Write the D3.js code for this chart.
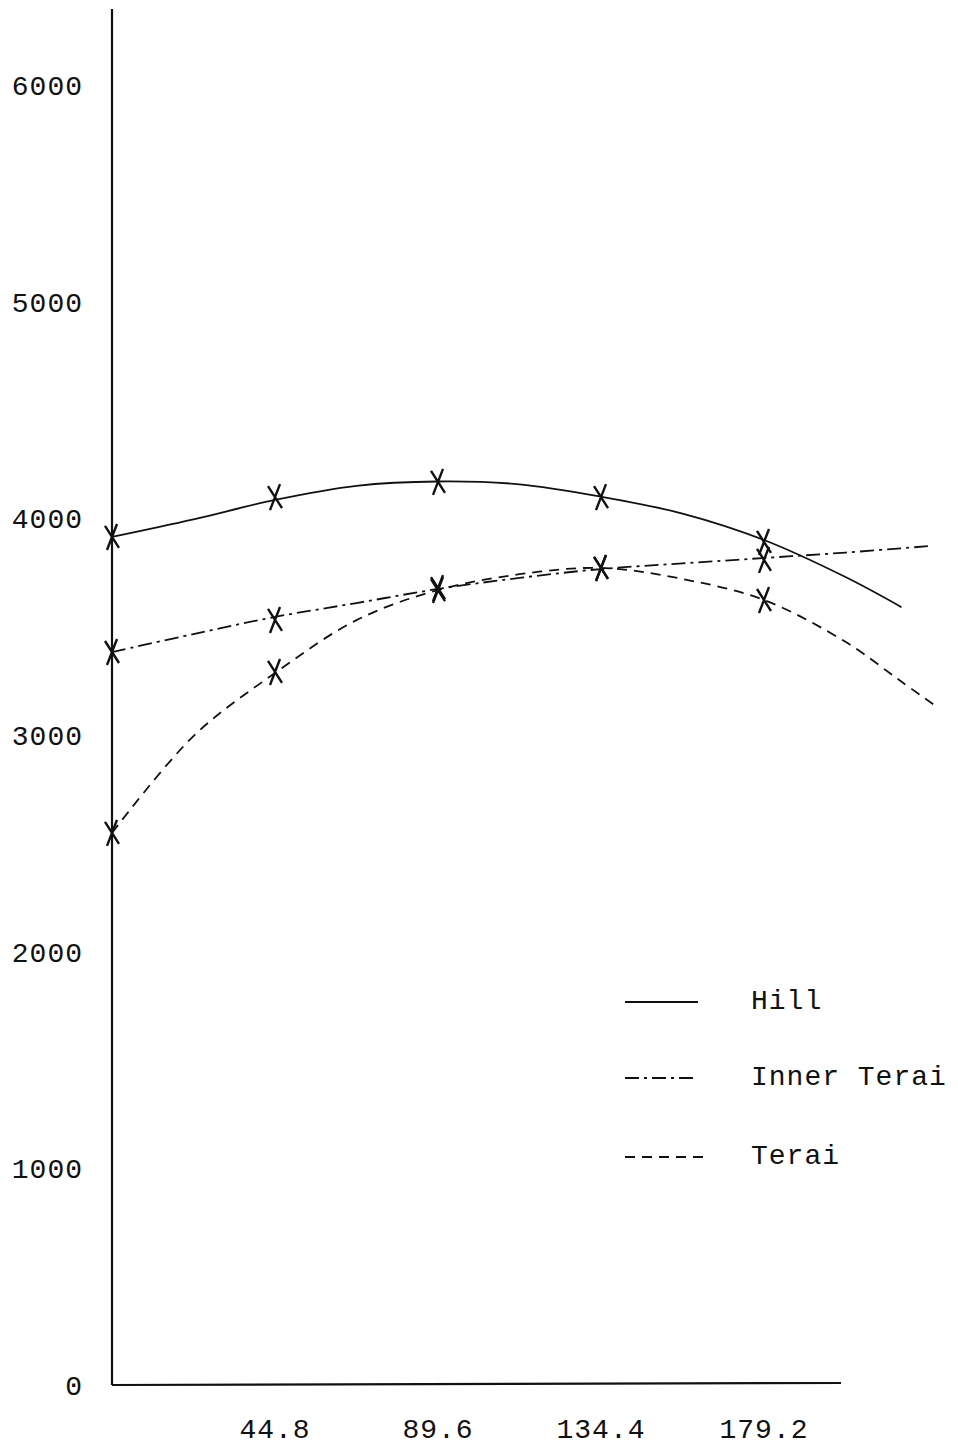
<!DOCTYPE html>
<html>
<head>
<meta charset="utf-8">
<script src="https://cdn.jsdelivr.net/npm/d3@7"></script>
<style>
  html, body { margin: 0; padding: 0; background: #fff; }
  svg { display: block; }
  text { font-family: "Liberation Mono", "DejaVu Sans Mono", monospace; fill: #111; }
</style>
</head>
<body>
<svg id="chart" width="958" height="1447"></svg>
<script>
// Nitrogen levels (x) and yields (y)
const doses = [0, 44.8, 89.6, 134.4, 179.2];
const xTicks = [44.8, 89.6, 134.4, 179.2];
const yTicks = [0, 1000, 2000, 3000, 4000, 5000, 6000];

// Observed yields per region
const hillObs = [3914, 4098, 4168, 4098, 3891];
const innerObs = [3383, 3531, 3678, 3771, 3808];
const teraiObs = [2548, 3291, 3669, 3771, 3623];

// Fitted response curves
const hillCurveX = [0, 22.4, 44.8, 67.2, 89.6, 112, 134.4, 156.8, 179.2, 201.6, 217];
const hillCurve = [3914, 3995, 4085, 4150, 4170, 4157, 4100, 4022, 3900, 3729, 3590];
const innerCurveX = [0, 22.4, 44.8, 67.2, 89.6, 112, 134.4, 156.8, 179.2, 201.6, 224.5];
const innerCurve = [3383, 3466, 3545, 3609, 3674, 3725, 3766, 3792, 3817, 3842, 3872];
const teraiCurveX = [0, 22.4, 44.8, 67.2, 89.6, 112, 134.4, 156.8, 179.2, 201.6, 216, 226];
const teraiCurve = [2548, 2995, 3286, 3530, 3669, 3742, 3771, 3720, 3623, 3430, 3258, 3138];

const legendNames = ["Hill", "Inner Terai", "Terai"];
const dashStyles = [null, "14,5,3,5", "10,7"];

const svg = d3.select("#chart");

const x = d3.scaleLinear().domain([0, 179.2]).range([112, 764]);
const y = d3.scaleLinear().domain([0, 6000]).range([1385, 85]);

// Axes
svg.append("line")
  .attr("x1", x(0)).attr("x2", x(0))
  .attr("y1", 9).attr("y2", y(0))
  .attr("stroke", "#111").attr("stroke-width", 2.2);
svg.append("line")
  .attr("x1", x(0)).attr("x2", 841)
  .attr("y1", y(0)).attr("y2", y(0) - 2)
  .attr("stroke", "#111").attr("stroke-width", 2.2);

// Tick labels
svg.selectAll("text.ylab").data(yTicks).enter().append("text")
  .attr("class", "ylab")
  .attr("x", 83)
  .attr("y", d => y(d) + 10)
  .attr("text-anchor", "end")
  .attr("font-size", 28)
  .attr("letter-spacing", 1)
  .text(d => d);

svg.selectAll("text.xlab").data(xTicks).enter().append("text")
  .attr("class", "xlab")
  .attr("x", d => x(d))
  .attr("y", 1438)
  .attr("text-anchor", "middle")
  .attr("font-size", 28)
  .attr("letter-spacing", 1)
  .text(d => d.toFixed(1));

// Curves
const line = d3.line()
  .x(d => x(d[0]))
  .y(d => y(d[1]))
  .curve(d3.curveCatmullRom.alpha(0.5));

const curves = [
  d3.zip(hillCurveX, hillCurve),
  d3.zip(innerCurveX, innerCurve),
  d3.zip(teraiCurveX, teraiCurve)
];

curves.forEach((pts, i) => {
  svg.append("path")
    .datum(pts)
    .attr("d", line)
    .attr("fill", "none")
    .attr("stroke", "#111")
    .attr("stroke-width", 1.8)
    .attr("stroke-dasharray", dashStyles[i]);
});

// Cross markers on observed points
const observed = [hillObs, innerObs, teraiObs];
const cross = "M-7,-11L7,11M5,-13L-5,13";
observed.forEach(vals => {
  svg.append("g").selectAll("path").data(d3.zip(doses, vals)).enter().append("path")
    .attr("transform", d => `translate(${x(d[0])},${y(d[1])})`)
    .attr("d", cross)
    .attr("fill", "none")
    .attr("stroke", "#111")
    .attr("stroke-width", 2.4);
});

// Legend
const legendY = [1002, 1078, 1157];
legendNames.forEach((name, i) => {
  svg.append("line")
    .attr("x1", 625).attr("x2", i === 2 ? 705 : 698)
    .attr("y1", legendY[i]).attr("y2", legendY[i])
    .attr("stroke", "#111")
    .attr("stroke-width", 1.8)
    .attr("stroke-dasharray", dashStyles[i]);
  svg.append("text")
    .attr("x", 751)
    .attr("y", legendY[i] + 7)
    .attr("font-size", 28)
    .attr("letter-spacing", 1)
    .text(name);
});
</script>
</body>
</html>
